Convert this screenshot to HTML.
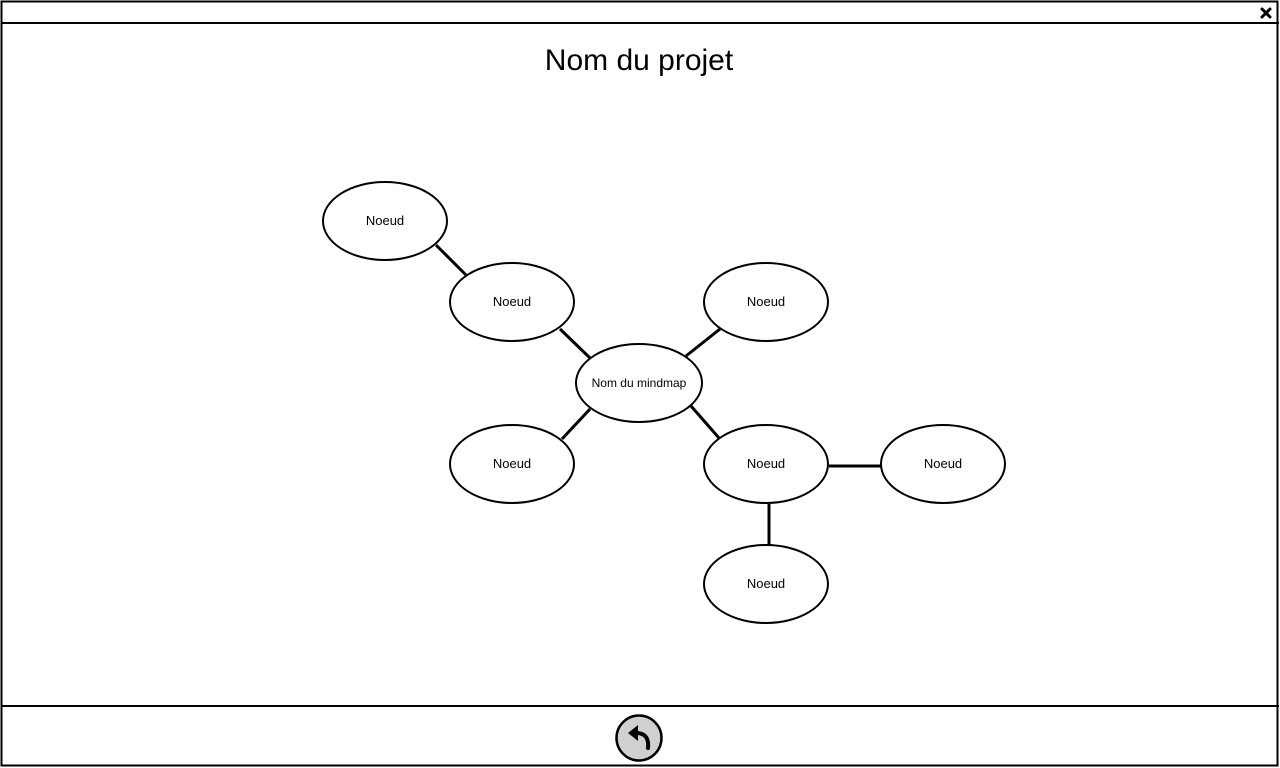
<!DOCTYPE html>
<html><head><meta charset="utf-8"><style>
html,body{margin:0;padding:0;background:#fff;}
svg{display:block;font-family:"Liberation Sans",sans-serif;}
</style></head><body>
<svg width="1280" height="768" viewBox="0 0 1280 768">
<rect x="1.5" y="1.5" width="1276" height="764" fill="#fff" stroke="#000" stroke-width="2"/>
<line x1="1" y1="23" x2="1279" y2="23" stroke="#000" stroke-width="2"/>
<line x1="1" y1="706" x2="1279" y2="706" stroke="#000" stroke-width="2"/>
<g stroke="#000" stroke-width="3" stroke-linecap="round">
<line x1="1262" y1="9" x2="1270" y2="17"/><line x1="1270" y1="9" x2="1262" y2="17"/>
</g>
<text x="639" y="70" font-size="30" text-anchor="middle">Nom du projet</text>
<g stroke="#000" stroke-width="3">
<line x1="436" y1="245" x2="466" y2="275"/>
<line x1="560" y1="329" x2="590" y2="358"/>
<line x1="686" y1="356" x2="720" y2="329"/>
<line x1="562" y1="439" x2="590" y2="409"/>
<line x1="691" y1="406" x2="719" y2="438"/>
<line x1="829" y1="466" x2="881" y2="466"/>
<line x1="769" y1="504" x2="769" y2="545"/>
</g>
<g fill="#fff" stroke="#000" stroke-width="2">
<ellipse cx="385" cy="221" rx="62" ry="39"/>
<ellipse cx="512" cy="302" rx="62" ry="39"/>
<ellipse cx="766" cy="302" rx="62" ry="39"/>
<ellipse cx="639" cy="383" rx="63" ry="39"/>
<ellipse cx="512" cy="464" rx="62" ry="39"/>
<ellipse cx="766" cy="464" rx="62" ry="39"/>
<ellipse cx="943" cy="464" rx="62" ry="39"/>
<ellipse cx="766" cy="584" rx="62" ry="39"/>
</g>
<g font-size="13" text-anchor="middle">
<text x="385" y="225">Noeud</text>
<text x="512" y="306">Noeud</text>
<text x="766" y="306">Noeud</text>
<text x="639" y="387" font-size="12">Nom du mindmap</text>
<text x="512" y="468">Noeud</text>
<text x="766" y="468">Noeud</text>
<text x="943" y="468">Noeud</text>
<text x="766" y="588">Noeud</text>
</g>
<circle cx="639" cy="738" r="22.5" fill="#d0d0d0" stroke="#000" stroke-width="2.5"/>
<path d="M648,748 C649,738 645,733 636,733" fill="none" stroke="#000" stroke-width="4" stroke-linecap="round"/>
<polygon points="628,733 638,725 638,741" fill="#000"/>
</svg>
</body></html>
